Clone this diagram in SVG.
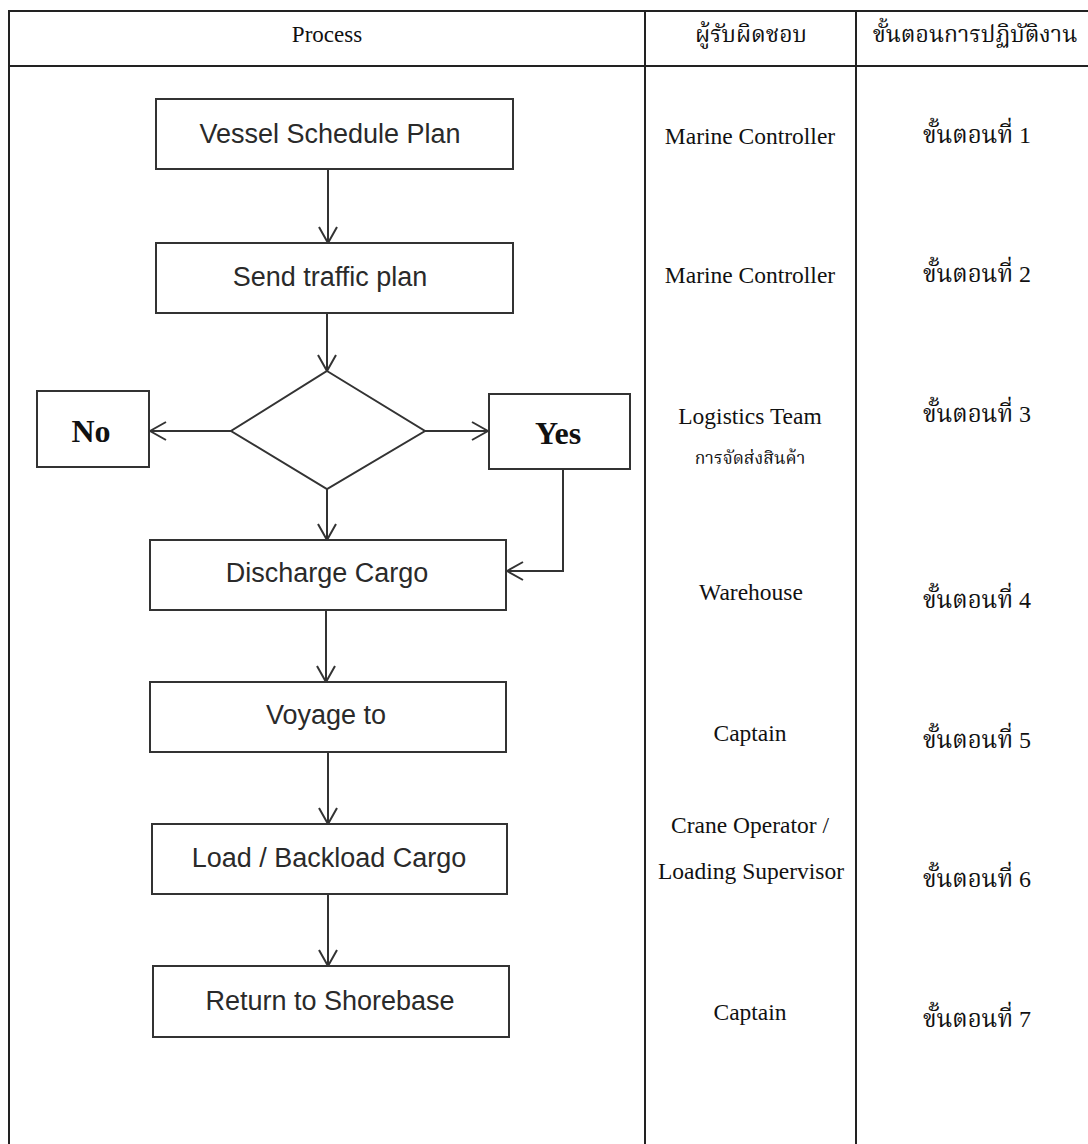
<svg xmlns="http://www.w3.org/2000/svg" width="1088" height="1144" viewBox="0 0 1088 1144">
<style>
.tbl{stroke:#222;stroke-width:2;fill:none}
.box{fill:#fff;stroke:#333;stroke-width:2}
.bt{font-family:"Liberation Sans",Arial,sans-serif;font-size:27px;fill:#2a2a2a;text-anchor:middle}
.yn{font-family:"Liberation Serif","Times New Roman",serif;font-size:32px;font-weight:bold;fill:#111;text-anchor:middle}
.st{font-family:"Liberation Serif","Times New Roman","Noto Sans Thai",serif;font-size:23.5px;fill:#111;text-anchor:middle}
.th{font-family:"Liberation Serif","Noto Serif Thai","Noto Sans Thai",serif;font-size:24px;fill:#111;text-anchor:middle}
.hd{font-family:"Liberation Serif","Noto Serif Thai","Noto Sans Thai",serif;font-size:23px;fill:#111;text-anchor:middle}
.con{stroke:#333;stroke-width:2;fill:none}
</style>
<defs>
<marker id="ah" markerUnits="userSpaceOnUse" viewBox="0 0 18 20" refX="17" refY="10" markerWidth="18" markerHeight="20" orient="auto">
<path d="M1,1 L17,10 L1,19" fill="none" stroke="#333" stroke-width="2"/>
</marker>
</defs>
<rect width="1088" height="1144" fill="#fff"/>
<g id="table">
<line class="tbl" x1="9" y1="11" x2="1088" y2="11"/>
<line class="tbl" x1="9" y1="66" x2="1088" y2="66"/>
<line class="tbl" x1="9" y1="10" x2="9" y2="1144"/>
<line class="tbl" x1="645" y1="11" x2="645" y2="1144"/>
<line class="tbl" x1="856" y1="11" x2="856" y2="1144"/>
<text class="hd" x="327" y="42">Process</text>
<text class="hd" x="751" y="42">ผู้รับผิดชอบ</text>
<text class="hd" x="975" y="42">ขั้นตอนการปฏิบัติงาน</text>
</g>
<g id="connectors">
<line class="con" x1="328" y1="169" x2="328" y2="243" marker-end="url(#ah)"/>
<line class="con" x1="327" y1="313" x2="327" y2="371" marker-end="url(#ah)"/>
<line class="con" x1="231" y1="431" x2="150" y2="431" marker-end="url(#ah)"/>
<line class="con" x1="425" y1="431" x2="488" y2="431" marker-end="url(#ah)"/>
<line class="con" x1="327" y1="489" x2="327" y2="540" marker-end="url(#ah)"/>
<polyline class="con" points="563,469 563,571 507,571" marker-end="url(#ah)"/>
<line class="con" x1="326" y1="610" x2="326" y2="682" marker-end="url(#ah)"/>
<line class="con" x1="328" y1="752" x2="328" y2="824" marker-end="url(#ah)"/>
<line class="con" x1="328" y1="894" x2="328" y2="966" marker-end="url(#ah)"/>
</g>
<g id="n1"><rect class="box" x="156" y="99" width="357" height="70"/><text class="bt" x="330" y="143">Vessel Schedule Plan</text></g>
<g id="n2"><rect class="box" x="156" y="243" width="357" height="70"/><text class="bt" x="330" y="286">Send traffic plan</text></g>
<g id="decision"><polygon class="box" points="327,371 425,431 327,489 231,431"/></g>
<g id="no"><rect class="box" x="37" y="391" width="112" height="76"/><text class="yn" x="91" y="442">No</text></g>
<g id="yes"><rect class="box" x="489" y="394" width="141" height="75"/><text class="yn" x="558" y="444">Yes</text></g>
<g id="n3"><rect class="box" x="150" y="540" width="356" height="70"/><text class="bt" x="327" y="582">Discharge Cargo</text></g>
<g id="n4"><rect class="box" x="150" y="682" width="356" height="70"/><text class="bt" x="326" y="724">Voyage to</text></g>
<g id="n5"><rect class="box" x="152" y="824" width="355" height="70"/><text class="bt" x="329" y="867">Load / Backload Cargo</text></g>
<g id="n6"><rect class="box" x="153" y="966" width="356" height="71"/><text class="bt" x="330" y="1010">Return to Shorebase</text></g>
<g id="resp">
<text class="st" x="750" y="144">Marine Controller</text>
<text class="st" x="750" y="283">Marine Controller</text>
<text class="st" x="750" y="424">Logistics Team</text>
<text class="th" x="750" y="464" style="font-size:17.5px">การจัดส่งสินค้า</text>
<text class="st" x="751" y="600">Warehouse</text>
<text class="st" x="750" y="741">Captain</text>
<text class="st" x="750" y="833">Crane Operator /</text>
<text class="st" x="751" y="879">Loading Supervisor</text>
<text class="st" x="750" y="1020">Captain</text>
</g>
<g id="steps">
<text class="th" x="977" y="143">ขั้นตอนที่ 1</text>
<text class="th" x="977" y="282">ขั้นตอนที่ 2</text>
<text class="th" x="977" y="422">ขั้นตอนที่ 3</text>
<text class="th" x="977" y="608">ขั้นตอนที่ 4</text>
<text class="th" x="977" y="748">ขั้นตอนที่ 5</text>
<text class="th" x="977" y="887">ขั้นตอนที่ 6</text>
<text class="th" x="977" y="1027">ขั้นตอนที่ 7</text>
</g>
</svg>
